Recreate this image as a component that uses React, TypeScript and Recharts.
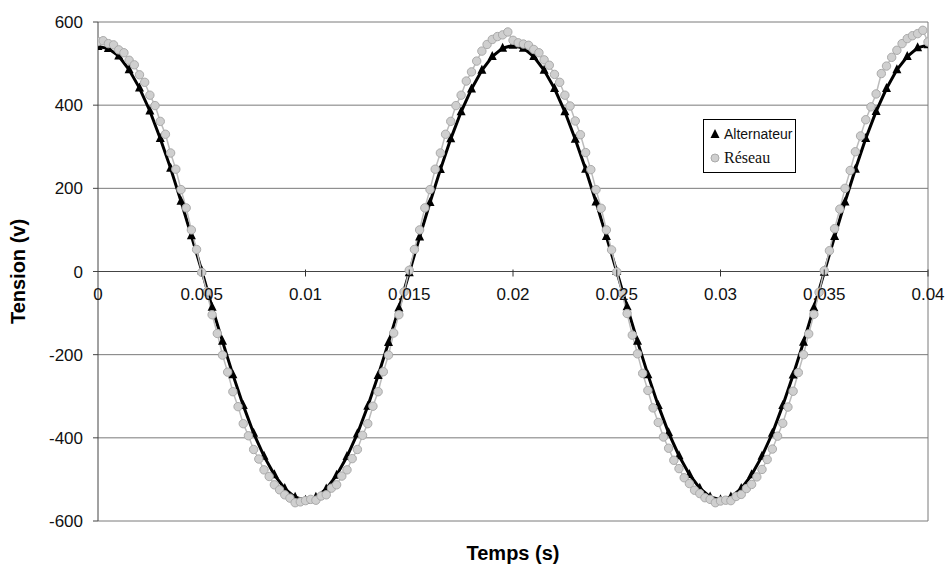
import { LineChart, Line, XAxis, YAxis, CartesianGrid, ReferenceLine, Legend } from 'recharts'

// sampling steps of the two recordings (s)
const ALT_STEP = 0.0005
const RES_STEP = 0.00025

// Alternateur (V), one sample every 0.5 ms
const alternateur = [
  541, 536, 518, 485, 441, 386, 320, 248, 169, 86, 2,
  -86, -168, -248, -322, -389, -444, -489, -522, -543, -550,
  -543, -523, -490, -445, -390, -324, -250, -171, -88, -3,
  83, 166, 245, 319, 384, 439, 484, 517, 537, 544,
  537, 517, 484, 440, 384, 318, 246, 167, 84, 0,
  -85, -168, -248, -322, -388, -443, -488, -521, -542, -549,
  -542, -522, -489, -444, -389, -322, -249, -170, -87, -2,
  84, 167, 246, 320, 385, 440, 485, 517, 538, 545,
]

// Réseau (V), one sample every 0.25 ms
const reseau = [
  553, 555, 548, 545, 533, 526, 508, 497, 473, 455, 424, 399, 361, 330, 285, 246, 197, 153, 100, 53, -2,
  -49, -104, -149, -201, -242, -289, -325, -366, -395, -428, -451, -477, -493, -513, -525, -537, -545, -556, -554, -551,
  -548, -550, -540, -537, -521, -513, -492, -477, -450, -428, -394, -366, -324, -289, -241, -201, -148, -104, -49, 3,
  53, 100, 153, 197, 246, 285, 330, 361, 399, 424, 458, 480, 506, 530, 546, 558, 565, 569, 576, 556,
  550, 547, 544, 534, 526, 509, 496, 474, 455, 424, 398, 362, 329, 286, 245, 197, 152, 100, 52, -1,
  -52, -101, -153, -198, -245, -286, -328, -363, -398, -425, -454, -474, -496, -510, -526, -534, -544, -548, -556, -552,
  -550, -551, -541, -536, -522, -512, -494, -476, -452, -427, -396, -365, -326, -288, -243, -200, -150, -103, -50, 2,
  50, 103, 150, 200, 243, 288, 326, 365, 396, 427, 476, 494, 515, 532, 548, 560, 567, 572, 580, 552,
]

const xTicks = [0, 0.005, 0.01, 0.015, 0.02, 0.025, 0.03, 0.035, 0.04]
const yTicks = [-600, -400, -200, 0, 200, 400, 600]

const altData = alternateur.map((v, i) => ({ t: +(i * ALT_STEP).toFixed(5), v }))
const resData = reseau.map((v, i) => ({ t: +(i * RES_STEP).toFixed(5), v }))

const W = 947
const H = 569
const X_AXIS_H = 30
const M = { top: 22, right: 19, bottom: 18, left: 0 }
const Y_AXIS_W = 98
// pixel row of the value 0 (the x axis crosses there)
const AXIS_Y = M.top + (H - M.top - M.bottom - X_AXIS_H) / 2

const FONT = '"Liberation Sans", Arial, sans-serif'

function XTick({ x, payload }: any) {
  return (
    <g>
      {payload.value !== 0 && (
        <line x1={x} x2={x} y1={AXIS_Y - 2} y2={AXIS_Y + 5} stroke="#333" />
      )}
      <text x={x} y={AXIS_Y + 28} textAnchor="middle" fontSize={17} fill="#111" fontFamily={FONT}>
        {String(payload.value)}
      </text>
    </g>
  )
}

function TriangleDot({ cx, cy }: any) {
  if (cx == null || cy == null) return null
  return <polygon points={`${cx},${cy - 5.5} ${cx - 4.5},${cy + 3.5} ${cx + 4.5},${cy + 3.5}`} fill="#000" />
}

function CircleDot({ cx, cy }: any) {
  if (cx == null || cy == null) return null
  return <circle cx={cx} cy={cy} r={4.2} fill="#cfcfcf" stroke="#aaaaaa" strokeWidth={1} />
}

function LegendBox() {
  return (
    <div style={{
      border: '1px solid #000', background: '#fff',
      padding: '3px 3px 3px 6px', display: 'flex', flexDirection: 'column', gap: 2,
    }}>
      <div style={{ display: 'flex', alignItems: 'center', gap: 4, height: 22 }}>
        <svg width={10} height={10}><polygon points="5,0 0.5,9 9.5,9" fill="#000" /></svg>
        <span style={{ fontFamily: FONT, fontSize: 14, color: '#111' }}>Alternateur</span>
      </div>
      <div style={{ display: 'flex', alignItems: 'center', gap: 4, height: 22 }}>
        <svg width={10} height={10}><circle cx={5} cy={5} r={4} fill="#cfcfcf" stroke="#aaaaaa" /></svg>
        <span style={{ fontFamily: '"Liberation Serif", "Times New Roman", serif', fontSize: 16, color: '#111' }}>Réseau</span>
      </div>
    </div>
  )
}

export default function App() {
  return (
    <div style={{ position: 'absolute', left: 0, top: 0, width: W, height: H, background: '#fff' }}>
      <LineChart width={W} height={H} margin={M}>
        <CartesianGrid horizontal vertical={false} stroke="#7a7a7a" />
        <XAxis
          type="number"
          dataKey="t"
          domain={[0, 0.04]}
          ticks={xTicks}
          allowDataOverflow
          height={X_AXIS_H}
          axisLine={false}
          tickLine={false}
          tick={<XTick />}
          interval={0}
          label={{
            value: 'Temps (s)', position: 'insideBottom', offset: -9,
            style: { fontFamily: FONT, fontSize: 20, fontWeight: 700, fill: '#000' },
          }}
        />
        <YAxis
          type="number"
          domain={[-600, 600]}
          ticks={yTicks}
          width={Y_AXIS_W}
          tickSize={5}
          tickMargin={10}
          axisLine={{ stroke: '#444' }}
          tickLine={{ stroke: '#444' }}
          tick={{ fontFamily: FONT, fontSize: 17, fill: '#111' }}
          label={{
            value: 'Tension (v)', angle: -90, position: 'insideLeft', offset: 18,
            style: { fontFamily: FONT, fontSize: 20, fontWeight: 700, fill: '#000', textAnchor: 'middle' },
          }}
        />
        <ReferenceLine y={0} stroke="#444" />
        <ReferenceLine x={0.04} stroke="#7a7a7a" />
        <Legend
          layout="vertical"
          align="center"
          verticalAlign="middle"
          content={<LegendBox />}
          wrapperStyle={{ left: 703, top: 119, width: 'auto' }}
        />
        <Line
          data={altData}
          dataKey="v"
          name="Alternateur"
          type="linear"
          stroke="#000"
          strokeWidth={3}
          dot={<TriangleDot />}
          activeDot={false}
          isAnimationActive={false}
        />
        <Line
          data={resData}
          dataKey="v"
          name="Réseau"
          type="linear"
          stroke="#bcbcbc"
          strokeWidth={1.5}
          dot={<CircleDot />}
          activeDot={false}
          isAnimationActive={false}
        />
      </LineChart>
    </div>
  )
}
